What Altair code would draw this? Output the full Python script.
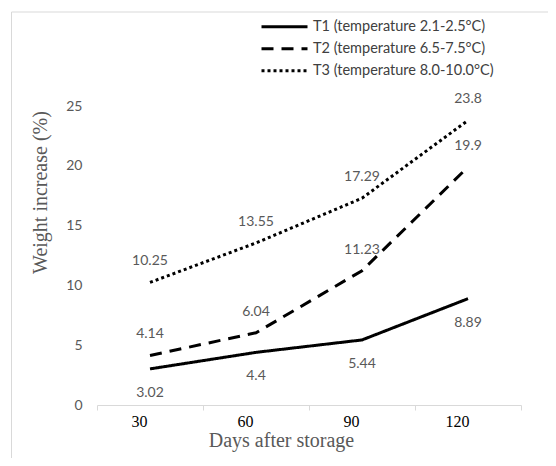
import altair as alt
import pandas as pd

days = ["30", "60", "90", "120"]
series = [
    "T1 (temperature 2.1-2.5°C)",
    "T2 (temperature 6.5-7.5°C)",
    "T3 (temperature 8.0-10.0°C)",
]
t1 = [3.02, 4.4, 5.44, 8.89]
t2 = [4.14, 6.04, 11.23, 19.9]
t3 = [10.25, 13.55, 17.29, 23.8]
y_ticks = [0, 5, 10, 15, 20, 25]
dashes = [[1, 0], [12, 8], [3, 3]]

rows = []
for s, vals in zip(series, [t1, t2, t3]):
    for d, v in zip(days, vals):
        rows.append({"series": s, "day": d, "value": v, "label": str(v)})
df = pd.DataFrame(rows)

x_enc = alt.X(
    "day:N",
    sort=days,
    scale=alt.Scale(type="band", paddingInner=0, paddingOuter=0),
    axis=alt.Axis(
        title="Days after storage",
        domainColor="#d9d9d9",
        tickColor="#d9d9d9",
        tickSize=5,
        tickBand="extent",
        labelFont="Liberation Serif",
        labelFontSize=16,
        labelColor="#000000",
        labelPadding=3,
        labelOffset=-11,
        labelAngle=0,
        grid=False,
        titleFont="Liberation Serif",
        titleFontSize=20,
        titleFontWeight="normal",
        titleColor="#595959",
        titleX=184,
        titleY=41,
        titleBaseline="alphabetic",
    ),
)
y_enc = alt.Y(
    "value:Q",
    scale=alt.Scale(domain=[0, 25], nice=False, zero=True),
    axis=alt.Axis(
        title="Weight increase (%)",
        values=y_ticks,
        domain=False,
        ticks=False,
        grid=False,
        labelFont="Lato",
        labelFontSize=14,
        labelColor="#595959",
        labelPadding=15,
        titleFont="Liberation Serif",
        titleFontSize=20,
        titleFontWeight="normal",
        titleColor="#595959",
        titleX=-57,
        titleY=86,
        titleAngle=270,
        titleBaseline="middle",
    ),
)

base = alt.Chart(df)

lines = base.mark_line(color="black", strokeWidth=3).encode(
    x=x_enc,
    y=y_enc,
    strokeDash=alt.StrokeDash(
        "series:N",
        scale=alt.Scale(domain=series, range=dashes),
        legend=alt.Legend(
            title=None,
            orient="none",
            legendX=163,
            legendY=-90,
            symbolType="stroke",
            symbolSize=2116,
            symbolStrokeWidth=3,
            symbolStrokeColor="black",
            labelFont="Lato",
            labelFontSize=14.5,
            labelColor="#404040",
            labelOffset=4,
            labelLimit=400,
            clipHeight=21.5,
            rowPadding=0,
            padding=0,
        ),
    ),
    detail="series:N",
)

txt_style = dict(font="Lato", fontSize=14, color="#595959", baseline="middle", align="center")

labels_low = base.transform_filter(alt.datum.series == series[0]).mark_text(dy=24, **txt_style).encode(
    x=alt.X("day:N", sort=days), y="value:Q", text="label:N"
)
labels_high = base.transform_filter(alt.datum.series != series[0]).mark_text(dy=-21, **txt_style).encode(
    x=alt.X("day:N", sort=days), y="value:Q", text="label:N"
)

frame = alt.Chart(pd.DataFrame({"a": [0]})).mark_rect(
    fill=None, stroke="#d9d9d9", strokeWidth=1
).encode(
    x=alt.value(-85.5), x2=alt.value(480), y=alt.value(-94), y2=alt.value(420)
)

chart = alt.layer(frame, lines, labels_low, labels_high).properties(
    width=424,
    height=299,
    autosize="none",
    padding={"left": 89, "top": 98, "right": 27, "bottom": 53},
).configure_view(stroke=None)

chart.save("out.html", embed_options={"renderer": "svg", "actions": False})
